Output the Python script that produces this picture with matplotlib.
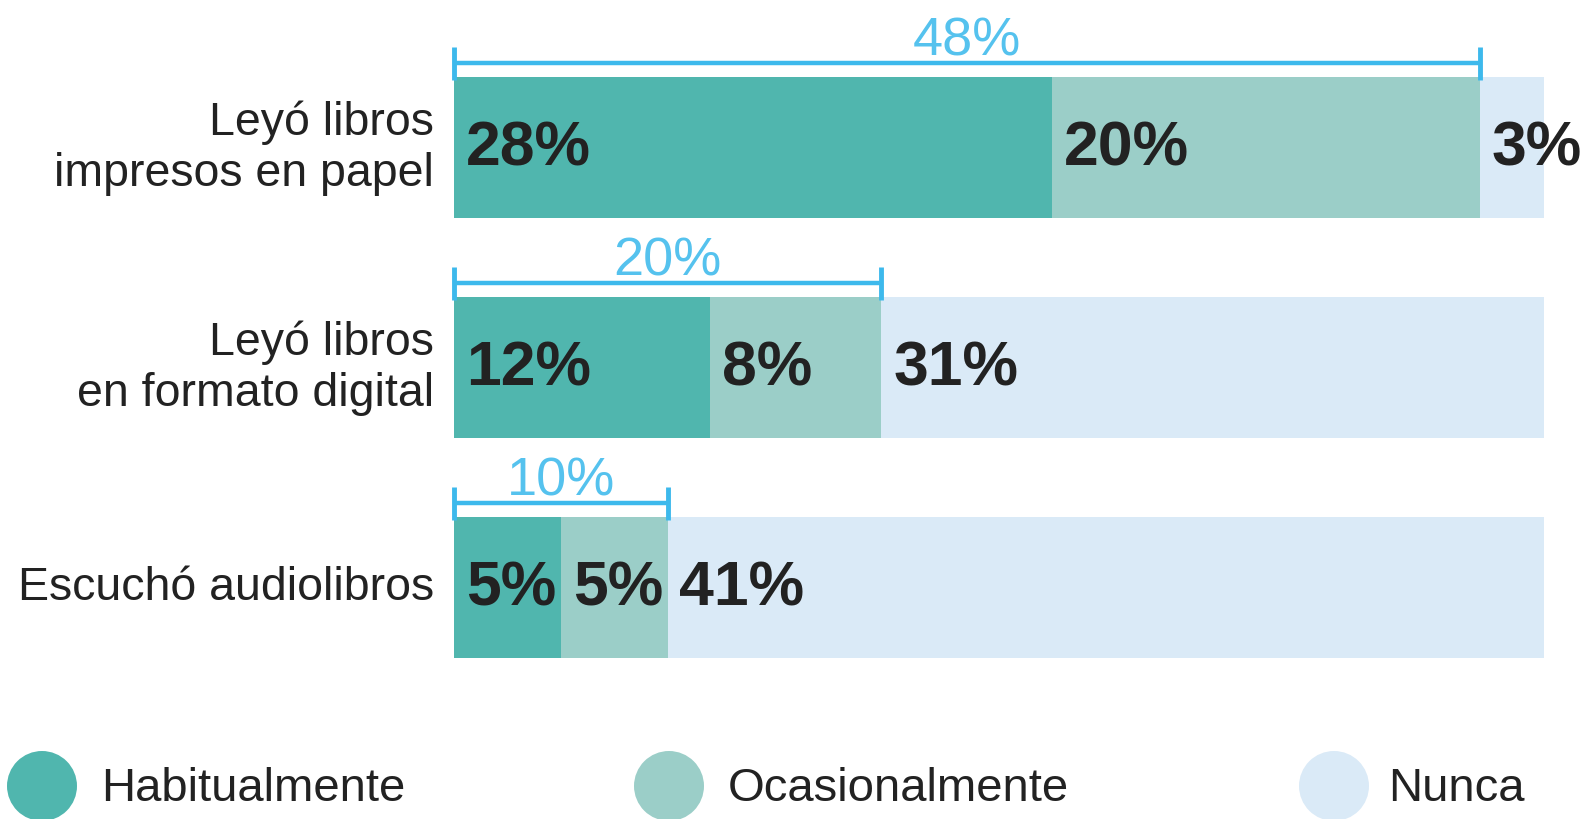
import matplotlib
matplotlib.use("Agg")
import matplotlib.pyplot as plt
import numpy as np

plt.rcParams['font.family'] = ['Liberation Sans', 'DejaVu Sans']

# datos
categorias = ["Leyó libros\nimpresos en papel", "Leyó libros\nen formato digital", "Escuchó audiolibros"]
series = ["Habitualmente", "Ocasionalmente", "Nunca"]
habitualmente = [28, 12, 5]
ocasionalmente = [20, 8, 5]
nunca = [3, 31, 41]
totales_lectura = [48, 20, 10]

colores = ["#50B6AE", "#9BCEC8", "#DAEAF7"]
azul_linea = "#3DB9EC"
azul_texto = "#55C2EE"
texto_oscuro = "#222222"

# escala: pixeles de la figura -> unidades de datos
W, H = 1589, 820
X0_PX, PX_POR_UNIDAD = 454, 1090 / 51
PASO_PX, Y0_PX = 220, 148.5


def dx(px):
    return (px - X0_PX) / PX_POR_UNIDAD


def dy(px):
    return (px - Y0_PX) / PASO_PX


fig = plt.figure(figsize=(W / 100, H / 100), dpi=100)
ax = fig.add_axes([0, 0, 1, 1])
ax.set_xlim(dx(0), dx(W))
ax.set_ylim(dy(H), dy(0))
ax.axis('off')

y = np.arange(len(categorias))
alto = 141 / PASO_PX

valores = [habitualmente, ocasionalmente, nunca]
izq = np.zeros(len(categorias))
for serie, vals, color in zip(series, valores, colores):
    ax.barh(y, vals, left=izq, height=alto, color=color, edgecolor='none')
    for yi, v, l in zip(y, vals, izq):
        ax.text(l + 0.55, yi, f"{v}%", ha='left', va='center', fontsize=45,
                fontweight='bold', color=texto_oscuro, clip_on=False)
    izq = izq + np.array(vals)

# etiquetas de categorias
for yi, cat in zip(y, categorias):
    ax.text(dx(434), yi, cat, ha='right', va='center', fontsize=33.5,
            color=texto_oscuro, linespacing=1.2)

# corchetes con el total de lectores
for yi, tot in zip(y, totales_lectura):
    yb = yi - alto / 2 - 14 / PASO_PX
    ax.plot([0, tot], [yb, yb], color=azul_linea, lw=3.2, solid_capstyle='butt')
    for xt in (0, tot):
        ax.plot([xt, xt], [yb - 16 / PASO_PX, yb + 17 / PASO_PX], color=azul_linea,
                lw=3.5, solid_capstyle='butt')
    ax.text(tot / 2, yb - 9 / PASO_PX, f"{tot}%", ha='center', va='baseline',
            fontsize=39, color=azul_texto)

# leyenda
ley_circ_px = [42, 669, 1334]
ley_txt_px = [101, 728, 1388]
for serie, color, cx, tx in zip(series, colores, ley_circ_px, ley_txt_px):
    ax.scatter([dx(cx)], [dy(787)], s=2540, color=color, edgecolors='none', clip_on=False)
    ax.text(dx(tx), dy(801), serie, ha='left', va='baseline', fontsize=34,
            color=texto_oscuro)

fig.savefig("out.png", dpi=100)
